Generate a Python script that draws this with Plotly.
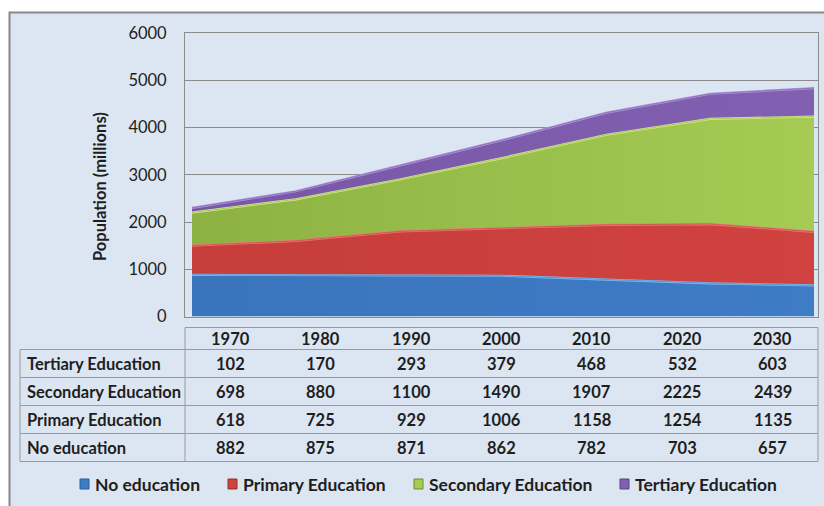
import numpy as np
import plotly.graph_objects as go

# Population by educational attainment (millions)
years = [1970, 1980, 1990, 2000, 2010, 2020, 2030]
no_education = [882, 875, 871, 862, 782, 703, 657]
primary = [618, 725, 929, 1006, 1158, 1254, 1135]
secondary = [698, 880, 1100, 1490, 1907, 2225, 2439]
tertiary = [102, 170, 293, 379, 468, 532, 603]

series_names = ["No education", "Primary Education", "Secondary Education", "Tertiary Education"]
series_values = [no_education, primary, secondary, tertiary]
y_ticks = [0, 1000, 2000, 3000, 4000, 5000, 6000]

# fill (left -> right), highlight edge, dark edge
fills = ["#3A74BC", "#C63D3A", "#8DB243", "#7857A6"]
fills_light = ["#3F7CC6", "#D0423F", "#A5CB54", "#8160B2"]
highlights = ["#7FBDF5", "#F07A74", "#D6EE8A", "#B596E2"]
darks = ["#2B5C99", "#96302D", "#6E8C33", "#5A4184"]

W, H = 824, 506
FONT = "Lato"
TEXT = "#1E1E1E"
GRID = "#8C8C8C"
BG = "#DCE6F2"


def px(x):
    return x / W


def py(y):
    return 1 - y / H


fig = go.Figure()

for name, vals, fc, fl, hc in zip(series_names, series_values, fills, fills_light, highlights):
    fig.add_trace(go.Scatter(
        x=years, y=vals, name=name, mode="lines",
        stackgroup="edu",
        line=dict(color=hc, width=2.2),
        fillcolor=fc,
        fillgradient=dict(type="horizontal", colorscale=[[0, fc], [1, fl]]),
        showlegend=False, hoverinfo="x+y+name",
    ))

# darker seam along each layer's top edge
tops = np.cumsum(np.array(series_values), axis=0)
for top, dc in zip(tops, darks):
    fig.add_trace(go.Scatter(
        x=years, y=top, mode="lines", line=dict(color=dc, width=0.8),
        showlegend=False, hoverinfo="skip", opacity=0.5,
    ))

# Plot area geometry (pixels)
PL, PR, PT, PB = 185, 818, 33, 316.5
x_step = (814 - 192) / (years[-1] - years[0])
x_range = [years[0] - (192 - PL) / x_step, years[-1] + (PR - 814) / x_step]

fig.update_layout(
    width=W, height=H,
    autosize=False,
    margin=dict(l=0, r=0, t=0, b=0, pad=0, autoexpand=False),
    paper_bgcolor="white",
    plot_bgcolor="white",
    font=dict(family=FONT, color=TEXT),
    xaxis=dict(
        domain=[px(PL), px(PR)], range=x_range, automargin=False,
        showticklabels=False, showgrid=False, zeroline=False,
        showline=True, linecolor=GRID, linewidth=1, mirror=True, ticks="",
    ),
    yaxis=dict(
        domain=[py(PB), py(PT)], range=[0, 6000], automargin=False,
        tickvals=y_ticks, ticktext=[str(v) for v in y_ticks],
        tickfont=dict(size=16.5, family=FONT, color=TEXT),
        ticklabelstandoff=14,
        showgrid=True, gridcolor=GRID, gridwidth=1, zeroline=False,
        showline=True, linecolor=GRID, linewidth=1, mirror=True, ticks="",
    ),
    showlegend=False,
)

shapes = []
# chart area background with frame
shapes.append(dict(type="rect", xref="paper", yref="paper", layer="below",
                   x0=px(9.5), x1=px(W + 5), y0=py(H + 5), y1=py(12.5),
                   fillcolor=BG, line=dict(color="#878787", width=2)))

# data table grid
TL, TC, TR = 20, 185, 818
row_lines = [327.5, 349.5, 377.5, 405.5, 433.5, 461.5]
line_style = dict(color="#9A9A9A", width=1)
shapes.append(dict(type="line", xref="paper", yref="paper",
                   x0=px(TC), x1=px(TR), y0=py(row_lines[0]), y1=py(row_lines[0]), line=line_style))
for ry in row_lines[1:]:
    shapes.append(dict(type="line", xref="paper", yref="paper",
                       x0=px(TL), x1=px(TR), y0=py(ry), y1=py(ry), line=line_style))
shapes.append(dict(type="line", xref="paper", yref="paper",
                   x0=px(TC), x1=px(TC), y0=py(row_lines[0]), y1=py(row_lines[-1]), line=line_style))
shapes.append(dict(type="line", xref="paper", yref="paper",
                   x0=px(TR), x1=px(TR), y0=py(row_lines[0]), y1=py(row_lines[-1]), line=line_style))
shapes.append(dict(type="line", xref="paper", yref="paper",
                   x0=px(TL), x1=px(TL), y0=py(row_lines[1]), y1=py(row_lines[-1]), line=line_style))

annotations = []
col_w = (TR - TC) / len(years)
row_font = dict(size=16.5, family=FONT, color=TEXT)


def cell(text, x, y, anchor="center"):
    annotations.append(dict(text=f"<b>{text}</b>", xref="paper", yref="paper",
                            x=px(x), y=py(y), xanchor=anchor, yanchor="middle",
                            showarrow=False, font=row_font))


# header row: years
for i, yr in enumerate(years):
    cell(yr, TC + (i + 0.5) * col_w, (row_lines[0] + row_lines[1]) / 2)

# table rows listed top-down, matching the stacking order from the top
table_order = [3, 2, 1, 0]
for r, si in enumerate(table_order):
    yc = (row_lines[r + 1] + row_lines[r + 2]) / 2
    cell(series_names[si], 25, yc, anchor="left")
    for i, v in enumerate(series_values[si]):
        cell(v, TC + (i + 0.5) * col_w, yc)

# y axis title
annotations.append(dict(text="<b>Population (millions)</b>", xref="paper", yref="paper",
                        x=px(100), y=py(187), textangle=-90, showarrow=False,
                        xanchor="center", yanchor="middle",
                        font=dict(size=16.5, family=FONT, color=TEXT)))

# legend: square key + label
legend_text_x = [93, 241, 427, 633]
LY = 484
for name, tx, fc, dc in zip(series_names, legend_text_x, fills_light, darks):
    shapes.append(dict(type="rect", xref="paper", yref="paper",
                       x0=px(tx - 13), x1=px(tx - 4), y0=py(LY + 5), y1=py(LY - 5),
                       fillcolor=fc, line=dict(color=dc, width=1)))
    annotations.append(dict(text=f"<b>{name}</b>", xref="paper", yref="paper",
                            x=px(tx), y=py(LY), xanchor="left", yanchor="middle",
                            showarrow=False, font=dict(size=17.5, family=FONT, color=TEXT)))

fig.update_layout(shapes=shapes, annotations=annotations)

fig.write_html("out.html")
